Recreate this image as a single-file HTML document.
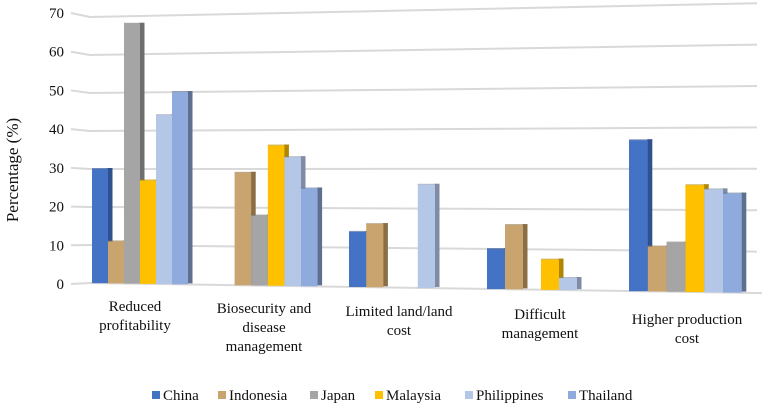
<!DOCTYPE html>
<html><head><meta charset="utf-8"><style>
html,body{margin:0;padding:0;background:#fff;}
svg{display:block;font-family:"Liberation Serif",serif;}
</style></head><body>
<svg id="chart" width="767" height="407" viewBox="0 0 767 407" xmlns="http://www.w3.org/2000/svg">
<g id="grid"></g>
<g id="yticks"></g>
<g id="bars"></g>
<g id="xlabels"></g>
<g id="legend"></g>
<text transform="translate(18,170) rotate(-90)" text-anchor="middle" font-size="17" fill="#111">Percentage (%)</text>
</svg>
<script>
const categories = [["Reduced","profitability"],["Biosecurity and","disease","management"],["Limited land/land","cost"],["Difficult","management"],["Higher production","cost"]];
const seriesNames = ["China","Indonesia","Japan","Malaysia","Philippines","Thailand"];
const china = [30,0,14,10,37];
const indonesia = [11,29,16,16,11];
const japan = [68,18,0,0,12];
const malaysia = [27,36,0,7.5,26];
const philippines = [44,33,26,3,25];
const thailand = [50,25,0,0,24];
const yTicks = [0,10,20,30,40,50,60,70];

const series = [china,indonesia,japan,malaysia,philippines,thailand];
const fronts = ["#4472C4","#C9A46E","#A5A5A5","#FFC000","#B4C7E7","#8FAADC"];
const sides = ["#2F528F","#8A6F45","#6E6E6E","#B08600","#7F8CA3","#5E6F8F"];
const groupStart = [92,218,349,487,629];
const barW = [16,16.6,17.2,18,18.8];
const labelX = [135,264,399,540,687];
const labelY = [306,308,311,314,319];
const NS = "http://www.w3.org/2000/svg";
function el(t,a,p){const e=document.createElementNS(NS,t);for(const k in a)e.setAttribute(k,a[k]);p.appendChild(e);return e;}
function y0(x){return 283+(x-90)*10/667;}
function sc(x){return 3.8+(x-90)*0.34/667;}
function yv(v,x){return y0(x)-v*sc(x);}

const grid=document.getElementById('grid'), yt=document.getElementById('yticks');
yTicks.forEach(v=>{
  const l=el('line',{x1:90,y1:yv(v,90),x2:v===0?762:757,y2:v===0?yv(v,762):yv(v,757),stroke:"#d9d9d9","stroke-width":2},grid);
  
  
  const sy=284-(284-13)*v/70;
  const s=el('line',{x1:71,y1:sy,x2:90,y2:yv(v,90),stroke:"#d9d9d9","stroke-width":2},grid);
  
  
  const t=el('text',{x:64,y:sy+5,"text-anchor":"end","font-size":15,fill:"#111"},yt);
  t.textContent=v;
  
  
});

const bars=document.getElementById('bars');
categories.forEach((c,gi)=>{
  series.forEach((arr,si)=>{
    const v=arr[gi]; if(!v) return;
    const w=barW[gi], x=groupStart[gi]+si*w;
    const top=yv(v,x+w/2), bot=y0(x+w/2);
    const g=el('g',{},bars);
    
    
    el('rect',{x:x+w-0.5,y:top-1,width:5,height:bot-top,fill:sides[si]},g);
    el('rect',{x:x,y:top-1,width:w+4.5,height:2,fill:sides[si],opacity:0.6},g);
    el('rect',{x:x,y:top,width:w,height:bot-top,fill:fronts[si]},g);
  });
});

const xl=document.getElementById('xlabels');
categories.forEach((c,gi)=>{
  const t=el('text',{x:labelX[gi],"text-anchor":"middle","font-size":15,fill:"#111"},xl);
  
  
  c.forEach((line,li)=>{const ts=el('tspan',{x:labelX[gi],y:labelY[gi]+5+li*19},t);ts.textContent=line;});
});

const legendX=[152,218,310,375,465,568];
const lg=document.getElementById('legend');
seriesNames.forEach((n,i)=>{
  const g=el('g',{},lg);
  
  
  el('rect',{x:legendX[i],y:391,width:8,height:8,fill:fronts[i]},g);
  const t=el('text',{x:legendX[i]+11,y:400,"font-size":15,fill:"#111"},g);
  t.textContent=n;
});
</script>
</body></html>
